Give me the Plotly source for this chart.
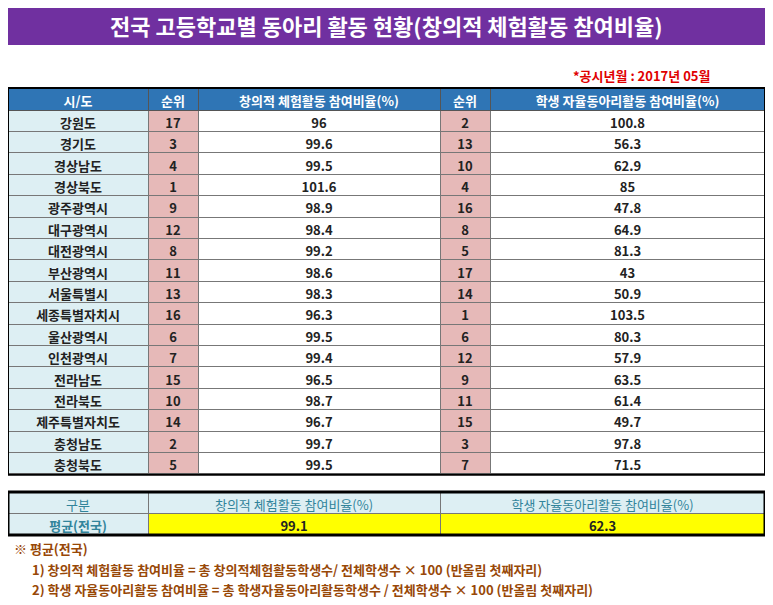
import plotly.graph_objects as go

regions = ["강원도", "경기도", "경상남도", "경상북도", "광주광역시", "대구광역시", "대전광역시", "부산광역시",
           "서울특별시", "세종특별자치시", "울산광역시", "인천광역시", "전라남도", "전라북도", "제주특별자치도",
           "충청남도", "충청북도"]
rank_a = [17, 3, 4, 1, 9, 12, 8, 11, 13, 16, 6, 7, 15, 10, 14, 2, 5]
rate_a = [96, 99.6, 99.5, 101.6, 98.9, 98.4, 99.2, 98.6, 98.3, 96.3, 99.5, 99.4, 96.5, 98.7, 96.7, 99.7, 99.5]
rank_b = [2, 13, 10, 4, 16, 8, 5, 17, 14, 1, 6, 12, 9, 11, 15, 3, 7]
rate_b = [100.8, 56.3, 62.9, 85, 47.8, 64.9, 81.3, 43, 50.9, 103.5, 80.3, 57.9, 63.5, 61.4, 49.7, 97.8, 71.5]
avg_a = 99.1
avg_b = 62.3

# the page puts the figure 8px in from the top-left corner
OFF = 8
W, H = 773 - 2 * OFF, 605 - 2 * OFF
FONT = "Noto Sans CJK KR"
n = len(regions)

def px_(x):
    return (x - OFF) / W

def py(y):
    return 1 - (y - OFF) / H

fig = go.Figure()

# main table
top, row_h, head_h = 88, 21.4, 22
bottom = top + head_h + row_h * n
fig.add_trace(go.Table(
    domain=dict(x=[px_(8), px_(765)], y=[py(bottom + 2), py(top)]),
    columnwidth=[140, 50, 242, 50, 275],
    header=dict(values=["시/도", "순위", "창의적 체험활동 참여비율(%)", "순위", "학생 자율동아리활동 참여비율(%)"],
                fill_color="#2F75B5", line_color="#555", height=head_h,
                font=dict(family=FONT, size=13, color="white", weight="bold"), align="center"),
    cells=dict(values=[regions, rank_a, rate_a, rank_b, rate_b],
               fill_color=[["#DDEFF3"] * n, ["#E6B9B8"] * n, ["white"] * n, ["#E6B9B8"] * n, ["white"] * n],
               line_color="#777", height=row_h,
               font=dict(family=FONT, size=13, color="#222", weight="bold"), align="center"),
))

# average table
btop = 492
fig.add_trace(go.Table(
    domain=dict(x=[px_(8), px_(765)], y=[py(btop + 46), py(btop)]),
    columnwidth=[140, 292, 325],
    header=dict(values=["구분", "창의적 체험활동 참여비율(%)", "학생 자율동아리활동 참여비율(%)"],
                fill_color="#DDEFF3", line_color="#777", height=21,
                font=dict(family=FONT, size=13, color="#31849B"), align="center"),
    cells=dict(values=[["평균(전국)"], [avg_a], [avg_b]],
               fill_color=[["#DDEFF3"], ["#FFFF00"], ["#FFFF00"]],
               line_color="#777", height=21,
               font=dict(family=FONT, size=13, color=["#31849B", "#222", "#222"], weight="bold"), align="center"),
))

shapes = [
    dict(type="rect", xref="paper", yref="paper", x0=px_(8), x1=px_(765), y0=py(45), y1=py(5),
         fillcolor="#7030A0", line_width=0, layer="below"),
    dict(type="rect", xref="paper", yref="paper", x0=px_(8), x1=px_(765), y0=py(bottom + 1), y1=py(top),
         line=dict(color="black", width=2)),
    dict(type="rect", xref="paper", yref="paper", x0=px_(8), x1=px_(765), y0=py(btop + 43), y1=py(btop),
         line=dict(color="black", width=3)),
]

brown = "#984807"
notes = [
    (12, 548, "※ 평균(전국)"),
    (30, 569, "1) 창의적 체험활동 참여비율 = 총 창의적체험활동학생수/ 전체학생수 × 100 (반올림 첫째자리)"),
    (30, 589, "2) 학생 자율동아리활동 참여비율 = 총 학생자율동아리활동학생수 / 전체학생수 × 100 (반올림 첫째자리)"),
]
annotations = [
    dict(x=px_(386), y=py(25), xref="paper", yref="paper", showarrow=False,
         xanchor="center", yanchor="middle",
         text="전국 고등학교별 동아리 활동 현황(창의적 체험활동 참여비율)",
         font=dict(family=FONT, size=22, color="white", weight="bold")),
    dict(x=px_(712), y=py(76), xref="paper", yref="paper", showarrow=False, xanchor="right", yanchor="middle",
         text="*공시년월 : 2017년 05월", font=dict(family=FONT, size=13, color="#E00000", weight="bold")),
]
for x, y, t in notes:
    annotations.append(dict(x=px_(x), y=py(y), xref="paper", yref="paper", showarrow=False,
                            xanchor="left", yanchor="middle",
                            text=t, font=dict(family=FONT, size=13, color=brown, weight="bold")))

fig.update_layout(width=W, height=H, margin=dict(l=0, r=0, t=0, b=0), paper_bgcolor="white",
                  shapes=shapes, annotations=annotations)
fig.write_html("out.html")
